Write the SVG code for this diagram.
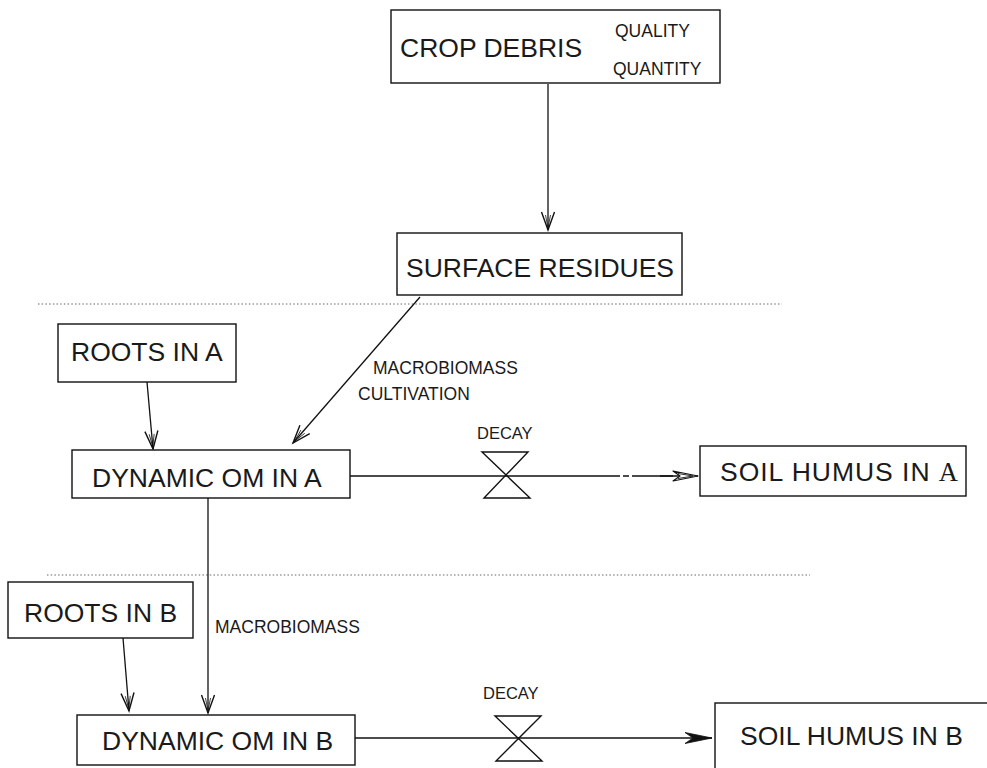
<svg xmlns="http://www.w3.org/2000/svg" width="987" height="768" viewBox="0 0 987 768">
<style>
.box{fill:#fff;stroke:#111;stroke-width:1.4}
.big{font-family:"Liberation Sans",Arial,sans-serif;font-size:26.5px;fill:#1a1a1a}
.small{font-family:"Liberation Sans",Arial,sans-serif;font-size:17.5px;fill:#1a1a1a}
.lbl{font-family:"Liberation Sans",Arial,sans-serif;font-size:16.5px;fill:#1a1a1a}
.con{fill:none;stroke:#111;stroke-width:1.3}
.dot{fill:none;stroke:#666;stroke-width:1;stroke-dasharray:1.5 2.2}
.valve{fill:none;stroke:#111;stroke-width:1.4;stroke-linejoin:miter}
</style>
<defs>
<marker id="v" markerUnits="userSpaceOnUse" markerWidth="30" markerHeight="20" viewBox="-22 -10 30 20" refX="0" refY="0" orient="auto" overflow="visible">
<path d="M-18,-6.5 L0,0 L-18,6.5" fill="none" stroke="#111" stroke-width="1.4"/>
<path d="M-15,-2.5 L-2,0 L-15,2.5" fill="none" stroke="#111" stroke-width="0.8"/>
</marker>
<marker id="hA" markerUnits="userSpaceOnUse" markerWidth="30" markerHeight="14" viewBox="-28 -7 30 14" refX="0" refY="0" orient="auto" overflow="visible">
<path d="M-25,-5 L0,0 L-25,5 L-18,0 Z" fill="#fff" stroke="#111" stroke-width="1.2" stroke-linejoin="round"/>
<path d="M-20,-2.5 L-5,0 L-20,2.5" fill="none" stroke="#111" stroke-width="0.9"/>
</marker>
<marker id="hB" markerUnits="userSpaceOnUse" markerWidth="30" markerHeight="14" viewBox="-28 -7 30 14" refX="0" refY="0" orient="auto" overflow="visible">
<path d="M-27,-5.5 L0,0 L-27,5.5 L-19,0 Z" fill="#111" stroke="#111" stroke-width="0.8"/>
</marker>
</defs>
<rect width="987" height="768" fill="#fff"/>

<g id="separators">
<line class="dot" x1="38" y1="304" x2="782" y2="304"/>
<line class="dot" x1="47" y1="575" x2="810" y2="575"/>
</g>

<g id="connectors">
<line class="con" x1="548" y1="84" x2="548" y2="230" marker-end="url(#v)"/>
<line class="con" x1="420" y1="297" x2="293" y2="443" marker-end="url(#v)"/>
<line class="con" x1="147" y1="382" x2="153" y2="449" marker-end="url(#v)"/>
<line class="con" x1="208" y1="498" x2="208" y2="713" marker-end="url(#v)"/>
<line class="con" x1="123" y1="638" x2="129" y2="711" marker-end="url(#v)"/>
<path class="con" d="M350,476 H620 M623,476 H629 M632,476 H673"/>
<line class="con" x1="660" y1="476" x2="698" y2="476" marker-end="url(#hA)"/>
<line class="con" x1="355" y1="738" x2="712" y2="738" marker-end="url(#hB)"/>
<text class="small" x="373" y="374">MACROBIOMASS</text>
<text class="small" x="358" y="400">CULTIVATION</text>
<text class="small" x="215" y="633">MACROBIOMASS</text>
</g>

<g id="crop-debris">
<rect class="box" x="391" y="10" width="329" height="73"/>
<text class="big" x="400" y="57">CROP DEBRIS</text>
<text class="small" x="615" y="37">QUALITY</text>
<text class="small" x="613" y="75">QUANTITY</text>
</g>

<g id="surface-residues">
<rect class="box" x="397" y="233" width="285" height="62"/>
<text class="big" x="406" y="277">SURFACE RESIDUES</text>
</g>

<g id="roots-a">
<rect class="box" x="58" y="324" width="178" height="58"/>
<text class="big" x="71" y="361">ROOTS IN A</text>
</g>

<g id="dynamic-om-a">
<rect class="box" x="72" y="450" width="278" height="48"/>
<text class="big" x="92" y="487">DYNAMIC OM IN A</text>
</g>

<g id="decay-a">
<path class="valve" d="M482,452 H528 L484,498 H530 Z"/>
<text class="lbl" x="477" y="439">DECAY</text>
</g>

<g id="soil-humus-a">
<rect class="box" x="700" y="446" width="266" height="50"/>
<text class="big" x="720" y="481" textLength="238" lengthAdjust="spacing">SOIL HUMUS IN <tspan font-family="'Liberation Serif',serif">A</tspan></text>
</g>

<g id="roots-b">
<rect class="box" x="8" y="582" width="185" height="56"/>
<text class="big" x="24" y="622">ROOTS IN B</text>
</g>

<g id="dynamic-om-b">
<rect class="box" x="77" y="715" width="278" height="50"/>
<text class="big" x="102" y="750">DYNAMIC OM IN B</text>
</g>

<g id="decay-b">
<path class="valve" d="M495,716 H541 L496,761 H542 Z"/>
<text class="lbl" x="483" y="699">DECAY</text>
</g>

<g id="soil-humus-b">
<rect class="box" x="715" y="703" width="290" height="80"/>
<text class="big" x="740" y="745">SOIL HUMUS IN B</text>
</g>
</svg>
